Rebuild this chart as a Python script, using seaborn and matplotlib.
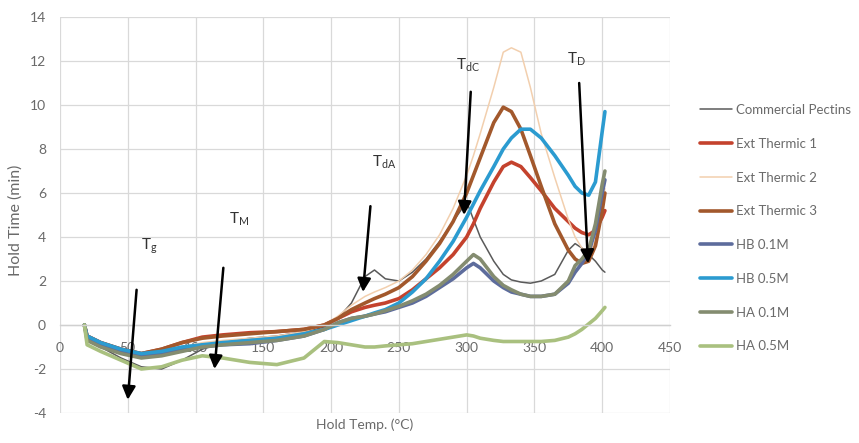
import numpy as np
import pandas as pd
import matplotlib
matplotlib.use("Agg")
import matplotlib.pyplot as plt
import seaborn as sns

# ---- data ----
hold_temp = [18, 20, 30, 45, 60, 75, 90, 105, 120, 140, 160, 180, 195, 205, 215, 225, 232, 240,
             250, 260, 270, 280, 290, 300, 305, 310, 320, 327, 333, 340, 347, 355, 365, 375,
             380, 385, 390, 395, 400, 402]

commercial_pectins = [0.0, -0.6, -1.0, -1.5, -1.9, -2.0, -1.6, -1.1, -0.8, -0.6, -0.5, -0.3, -0.1, 0.3,
                      1.0, 2.2, 2.5, 2.1, 2.0, 2.4, 3.0, 3.8, 4.7, 5.6, 4.8, 4.0, 2.9, 2.3, 2.05, 1.95,
                      1.9, 2.0, 2.3, 3.4, 3.7, 3.5, 3.2, 2.9, 2.5, 2.4]
ext_thermic_1 = [0.0, -0.5, -0.8, -1.1, -1.3, -1.1, -0.8, -0.55, -0.45, -0.35, -0.3, -0.2, 0.0, 0.3,
                 0.6, 0.8, 0.9, 1.0, 1.2, 1.6, 2.1, 2.6, 3.2, 4.0, 4.6, 5.3, 6.5, 7.2, 7.4, 7.2,
                 6.7, 6.1, 5.3, 4.7, 4.4, 4.2, 4.1, 4.3, 4.9, 5.2]
ext_thermic_2 = [0.0, -0.6, -0.9, -1.2, -1.4, -1.3, -1.0, -0.8, -0.7, -0.6, -0.5, -0.3, 0.0, 0.4,
                 0.9, 1.3, 1.5, 1.7, 2.0, 2.5, 3.2, 4.1, 5.3, 6.8, 7.7, 8.7, 10.8, 12.4, 12.6, 12.4,
                 10.8, 8.7, 6.7, 4.8, 4.0, 3.5, 3.3, 3.8, 5.5, 6.2]
ext_thermic_3 = [0.0, -0.5, -0.8, -1.1, -1.3, -1.1, -0.8, -0.6, -0.5, -0.4, -0.3, -0.2, 0.0, 0.3,
                 0.7, 1.0, 1.2, 1.4, 1.7, 2.2, 2.9, 3.7, 4.7, 6.0, 6.8, 7.6, 9.2, 9.9, 9.7, 8.9,
                 7.7, 6.3, 4.6, 3.4, 3.0, 2.8, 2.9, 3.6, 5.2, 6.0]
hb_01m = [0.0, -0.6, -0.9, -1.2, -1.4, -1.3, -1.1, -1.0, -0.9, -0.85, -0.7, -0.5, -0.2, 0.1,
          0.3, 0.4, 0.5, 0.6, 0.8, 1.0, 1.3, 1.7, 2.1, 2.6, 2.8, 2.6, 2.0, 1.7, 1.5, 1.4,
          1.3, 1.3, 1.4, 1.9, 2.4, 2.8, 3.3, 4.3, 6.0, 6.6]
hb_05m = [0.0, -0.5, -0.8, -1.1, -1.3, -1.2, -1.0, -0.9, -0.8, -0.7, -0.6, -0.4, -0.2, 0.0,
          0.2, 0.4, 0.55, 0.7, 1.0, 1.5, 2.1, 2.9, 3.8, 4.9, 5.5, 6.1, 7.2, 8.0, 8.5, 8.9,
          8.9, 8.5, 7.7, 6.8, 6.3, 6.0, 5.9, 6.5, 8.8, 9.7]
ha_01m = [0.0, -0.7, -1.0, -1.3, -1.5, -1.4, -1.2, -1.0, -0.9, -0.8, -0.7, -0.5, -0.2, 0.1,
          0.3, 0.4, 0.5, 0.65, 0.85, 1.1, 1.4, 1.8, 2.3, 2.9, 3.2, 3.0, 2.2, 1.8, 1.6, 1.4,
          1.3, 1.3, 1.4, 2.0, 2.7, 3.0, 3.4, 4.6, 6.4, 7.0]
ha_05m = [0.0, -0.9, -1.2, -1.6, -2.0, -1.9, -1.6, -1.4, -1.5, -1.7, -1.8, -1.5, -0.75, -0.8,
          -0.9, -1.0, -1.0, -0.95, -0.9, -0.85, -0.75, -0.65, -0.55, -0.45, -0.5, -0.6, -0.7,
          -0.75, -0.75, -0.75, -0.75, -0.75, -0.7, -0.55, -0.4, -0.2, 0.05, 0.3, 0.65, 0.8]

series_names = ["Commercial Pectins", "Ext Thermic 1", "Ext Thermic 2", "Ext Thermic 3",
                "HB 0.1M", "HB 0.5M", "HA 0.1M", "HA 0.5M"]
series_values = [commercial_pectins, ext_thermic_1, ext_thermic_2, ext_thermic_3,
                 hb_01m, hb_05m, ha_01m, ha_05m]

x_ticks = [0, 50, 100, 150, 200, 250, 300, 350, 400, 450]
y_ticks = [-4, -2, 0, 2, 4, 6, 8, 10, 12, 14]

# annotations: label, subscript, text position, arrow start, arrow end
ann_labels = ["g", "M", "dA", "dC", "D"]
ann_text_xy = [(60, 3.6), (125, 4.8), (230, 7.4), (292, 11.8), (374, 12.1)]
ann_start_xy = [(56.5, 1.6), (120.5, 2.6), (229, 5.4), (303, 10.6), (383, 11.0)]
ann_end_xy = [(50, -3.4), (114, -2.0), (223.5, 1.5), (298, 5.0), (389.5, 2.8)]

# ---- styling ----
colors = ["#5a5a5a", "#c4422d", "#f2cfae", "#a2582c", "#5d6c9c", "#2b9bd0", "#848c70", "#a9c07f"]
widths = [1.1, 2.6, 1.1, 2.6, 2.6, 2.6, 2.6, 2.6]

sns.set_theme(style="white")
plt.rcParams["font.family"] = ["Lato", "DejaVu Sans"]
plt.rcParams["axes.unicode_minus"] = False
plt.rcParams["lines.solid_joinstyle"] = "round"

fig = plt.figure(figsize=(8.59, 4.43), dpi=100)
ax = fig.add_axes([60 / 859, 1 - 413 / 443, 610 / 859, 396 / 443])

rows = []
for name, vals in zip(series_names, series_values):
    for xv, yv in zip(hold_temp, vals):
        rows.append((name, xv, yv))
df = pd.DataFrame(rows, columns=["series", "temp", "time"])

for name, col, lw in zip(series_names, colors, widths):
    sub = df[df["series"] == name]
    sns.lineplot(data=sub, x="temp", y="time", ax=ax, color=col, linewidth=lw,
                 label=name, sort=False, estimator=None)

ax.set_xlim(0, 450)
ax.set_ylim(-4, 14)
ax.set_xticks(x_ticks)
ax.set_yticks(y_ticks)
ax.grid(True, color="#d9d9d9", linewidth=0.9)
ax.set_axisbelow(True)
for s in ["top", "left", "right"]:
    ax.spines[s].set_visible(False)
ax.spines["bottom"].set_position(("data", 0))
ax.spines["bottom"].set_color("#d0d0d0")
ax.spines["bottom"].set_linewidth(1.0)
ax.tick_params(axis="x", length=0, pad=12, labelsize=10, labelcolor="#6a6a6a")
ax.tick_params(axis="y", length=0, pad=10, labelsize=10, labelcolor="#6a6a6a")

ax.set_xlabel("")
ax.set_ylabel("")
fig.text(365 / 859, 1 - 425 / 443, "Hold Temp. (\u00b0C)", ha="center", va="center",
         fontsize=10, color="#6a6a6a")
fig.text(16 / 859, 1 - 220 / 443, "Hold Time (min)", ha="center", va="center",
         rotation=90, fontsize=11.5, color="#6a6a6a")

for lab, txy, sxy, exy in zip(ann_labels, ann_text_xy, ann_start_xy, ann_end_xy):
    ax.annotate("", xy=exy, xytext=sxy,
                arrowprops=dict(arrowstyle="-|>", color="black", lw=1.8, mutation_scale=20,
                                shrinkA=0, shrinkB=0))
    ax.text(txy[0], txy[1], "T$_{\\mathregular{" + lab + "}}$", fontsize=11,
            color="#333333", ha="left", va="center")

ax.legend_.remove()
handles, labels = ax.get_legend_handles_labels()
fig.legend(handles, labels, loc="upper left", bbox_to_anchor=(700 / 859, 1 - 104 / 443),
           frameon=False, fontsize=9.5, handlelength=2.4, handletextpad=0.3,
           labelspacing=1.65, borderpad=0, borderaxespad=0, labelcolor="#6a6a6a")

fig.savefig("out.png", dpi=100)
